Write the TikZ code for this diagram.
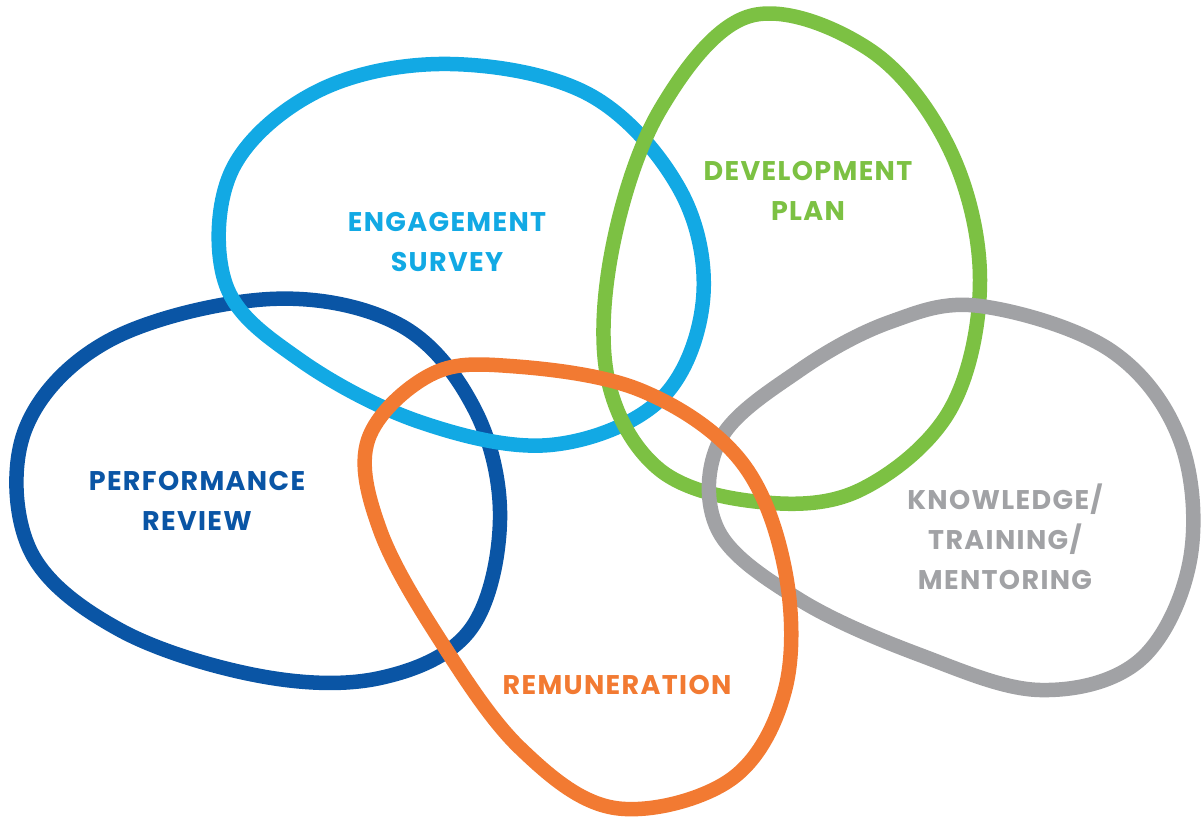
\documentclass[tikz,border=0pt]{standalone}
\usepackage{fontspec}
\setmainfont{Poppins}
\definecolor{darkblue}{HTML}{0A55A5}
\definecolor{lightblue}{HTML}{12A9E4}
\definecolor{leafgreen}{HTML}{7CC143}
\definecolor{orange}{HTML}{F27A32}
\definecolor{stonegray}{HTML}{A1A2A5}
\tikzset{
    blob/.style={line width=14.5pt},
    label/.style={font=\fontsize{27}{40}\selectfont\bfseries\addfontfeatures{LetterSpace=5}, align=center}
}
\begin{document}
\begin{tikzpicture}[x=1pt, y=-1pt]
            \useasboundingbox (0, 0) rectangle (1202, 821);

            % performance review
            \draw[blob, darkblue] plot[smooth cycle, tension=0.6] coordinates {(270,299) (400,325) (475,410) (500,520) (470,630) (380,678) (260,676) (120,630) (30,550) (25,430) (110,340)};
            % engagement survey
            \draw[blob, lightblue] plot[smooth cycle, tension=0.6] coordinates {(450,64) (590,95) (680,190) (703,300) (660,400) (550,445) (420,422) (300,360) (226,285) (232,170) (320,90)};
            % development plan
            \draw[blob, leafgreen] plot[smooth cycle, tension=0.6] coordinates {(750,16) (870,50) (950,150) (980,280) (950,410) (860,490) (760,502) (660,470) (608,380) (612,250) (660,110)};
            % knowledge
            \draw[blob, stonegray] plot[smooth cycle, tension=0.6] coordinates {(980,306) (1110,350) (1180,440) (1190,560) (1140,660) (1040,690) (920,655) (800,600) (718,530) (720,440) (800,370) (890,322)};
            % remuneration
            \draw[blob, orange] plot[smooth cycle, tension=0.6] coordinates {(510,366) (640,390) (740,460) (785,570) (785,690) (730,780) (615,808) (520,748) (440,640) (380,530) (368,440) (430,375)};

            \node[label, lightblue] (engagement) at (447, 242) {ENGAGEMENT\\SURVEY};
            \node[label, leafgreen] (development) at (808, 191) {DEVELOPMENT\\PLAN};
            \node[label, darkblue] (performance) at (197, 501) {PERFORMANCE\\REVIEW};
            \node[label, stonegray] (knowledge) at (1005, 537) {KNOWLEDGE/\\TRAINING/\\MENTORING};
            \node[label, orange] (remuneration) at (617, 685) {REMUNERATION};
        \end{tikzpicture}
\end{document}
